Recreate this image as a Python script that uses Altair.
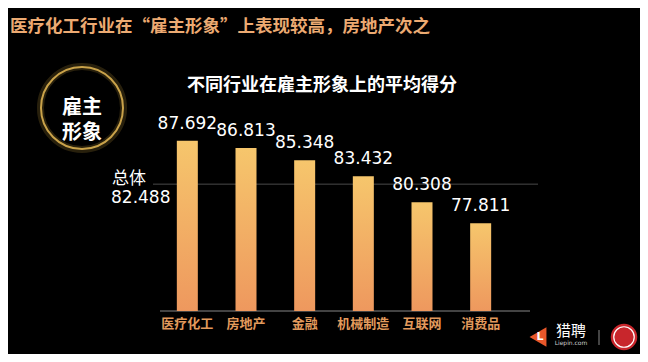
import altair as alt
import pandas as pd

categories = ["医疗化工", "房地产", "金融", "机械制造", "互联网", "消费品"]
scores = [87.692, 86.813, 85.348, 83.432, 80.308, 77.811]
overall_label = "总体"
overall_value = 82.488
title_text = "医疗化工行业在“雇主形象”上表现较高，房地产次之"
subtitle_text = "不同行业在雇主形象上的平均得分"
badge_lines = ["雇主", "形象"]
y_floor = 67.3

df = pd.DataFrame({"行业": categories, "得分": scores})
df["label"] = [f"{v:.3f}" for v in scores]
df["base"] = y_floor
ref_df = pd.DataFrame({"v": [overall_value]})
one = pd.DataFrame({"a": [0]})

W, H = 352, 190
NUM_FONT = "DejaVu Sans, Noto Sans CJK SC"
CJK = "Noto Sans CJK SC"

xenc = alt.X("行业:N", sort=None,
             scale=alt.Scale(paddingInner=0.642, paddingOuter=0.321),
             axis=alt.Axis(title=None, domain=False, ticks=False, labelAngle=0,
                           labelColor="#E29A5C", labelFont=CJK, labelFontSize=13,
                           labelFontWeight="bold", labelPadding=6))
yscale = alt.Scale(domain=[y_floor, 90.05], zero=False, nice=False)
yenc = alt.Y("得分:Q", scale=yscale, axis=None, stack=None)

grad = alt.Gradient(gradient="linear", x1=0, x2=0, y1=0, y2=1,
                    stops=[alt.GradientStop(color="#F6C66C", offset=0),
                           alt.GradientStop(color="#EE985E", offset=1)])

ref_rule = alt.Chart(ref_df).mark_rule(color="#4a4a4a", strokeWidth=1).encode(
    y=alt.Y("v:Q", scale=yscale, axis=None),
    x=alt.value(-5), x2=alt.value(380))

axis_line = alt.Chart(one).mark_rule(color="#5a5a5a", strokeWidth=1.5).encode(
    y=alt.value(H), x=alt.value(2), x2=alt.value(372))

bars = alt.Chart(df).mark_bar(color=grad, clip=True).encode(x=xenc, y=yenc, y2="base:Q")

vals = alt.Chart(df).mark_text(color="white", font=NUM_FONT, fontSize=17,
                               baseline="bottom", dy=-8).encode(
    x=alt.X("行业:N", sort=None), y="得分:Q", text="label:N")

ref_lab1 = alt.Chart(ref_df).mark_text(color="white", font=NUM_FONT, fontSize=17,
                                       align="left", baseline="middle", dy=-5).encode(
    y=alt.Y("v:Q", scale=yscale), x=alt.value(-46), text=alt.value(overall_label))
ref_lab2 = alt.Chart(ref_df).mark_text(color="white", font=NUM_FONT, fontSize=17,
                                       align="left", baseline="middle", dy=14).encode(
    y=alt.Y("v:Q", scale=yscale), x=alt.value(-47), text=alt.value(f"{overall_value:.3f}"))

title = alt.Chart(one).mark_text(color="#ECAA72", font=CJK, fontSize=17.5, fontWeight="bold",
                                 align="left", baseline="middle").encode(
    x=alt.value(-148), y=alt.value(-94), text=alt.value(title_text))

subtitle = alt.Chart(one).mark_text(color="white", font=CJK, fontSize=18, fontWeight="bold",
                                    align="center", baseline="middle").encode(
    x=alt.value(164), y=alt.value(-35), text=alt.value(subtitle_text))

glow = alt.Chart(one).mark_point(shape="circle", filled=False, size=6900, strokeWidth=7,
                                 color="#B8923A", opacity=0.22).encode(
    x=alt.value(-76), y=alt.value(-13))
ring = alt.Chart(one).mark_point(shape="circle", filled=False, size=6724, strokeWidth=2,
                                 color="#C9A24A", opacity=1).encode(
    x=alt.value(-76), y=alt.value(-13))
badge = alt.Chart(one).mark_text(color="white", font=CJK, fontSize=20, fontWeight="bold",
                                 baseline="middle", lineHeight=25).encode(
    x=alt.value(-76), y=alt.value(-13), text=alt.value(badge_lines))

# logos bottom right
l_icon = alt.Chart(one).mark_point(shape="triangle-left", filled=True, size=380,
                                   color="#E8572A", opacity=1).encode(
    x=alt.value(380), y=alt.value(216))
l_text = alt.Chart(one).mark_text(color="white", font="DejaVu Sans", fontSize=11,
                                  fontWeight="bold", baseline="middle").encode(
    x=alt.value(382), y=alt.value(216), text=alt.value("L"))
lp_text = alt.Chart(one).mark_text(color="white", font=CJK, fontSize=15,
                                   baseline="middle").encode(
    x=alt.value(413), y=alt.value(210), text=alt.value("猎聘"))
lp_url = alt.Chart(one).mark_text(color="#cccccc", font="DejaVu Sans", fontSize=6,
                                  baseline="middle").encode(
    x=alt.value(413), y=alt.value(222), text=alt.value("Liepin.com"))
divider = alt.Chart(one).mark_rule(color="#888888", strokeWidth=1).encode(
    x=alt.value(441), y=alt.value(209), y2=alt.value(224))
emblem = alt.Chart(one).mark_point(shape="circle", filled=True, size=700,
                                   color="#C8262C", opacity=1).encode(
    x=alt.value(466), y=alt.value(216))
emblem_ring = alt.Chart(one).mark_point(shape="circle", filled=False, size=420, strokeWidth=1.2,
                                        color="white", opacity=1).encode(
    x=alt.value(466), y=alt.value(216))

chart = alt.layer(
    ref_rule, axis_line, bars, vals, ref_lab1, ref_lab2, title, subtitle,
    glow, ring, badge, l_icon, l_text, lp_text, lp_url, divider, emblem, emblem_ring
).properties(
    width=W, height=H,
    autosize=alt.AutoSizeParams(type="none"),
    padding={"left": 150, "top": 113, "right": 130, "bottom": 43},
    background="#000000",
).configure_view(stroke=None)

chart.save("out.html", embed_options={"renderer": "svg", "actions": False})
